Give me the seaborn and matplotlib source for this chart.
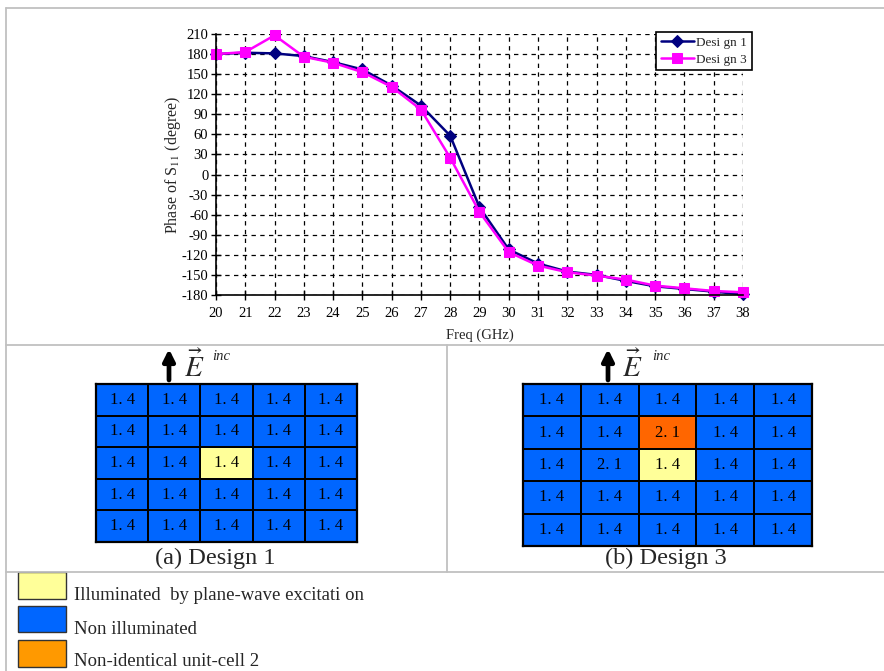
import numpy as np
import pandas as pd
import matplotlib
matplotlib.use("Agg")
import matplotlib.pyplot as plt
import seaborn as sns
from matplotlib.colors import ListedColormap
from matplotlib.lines import Line2D
from matplotlib.patches import Rectangle, FancyArrowPatch

# ---------------- data ----------------
freq = [20, 21, 22, 23, 24, 25, 26, 27, 28, 29, 30, 31, 32, 33, 34, 35, 36, 37, 38]
design1 = [180, 182, 181, 177, 168, 157, 133, 103, 58, -49, -112, -133, -145, -150,
           -159, -167, -171, -175, -179]
design3 = [180, 183, 208, 176, 167, 153, 131, 97, 25, -56, -116, -136, -146, -151,
           -157, -166, -170, -174, -176]
series_names = ["Desi gn 1", "Desi gn 3"]
yticks = list(range(-180, 211, 30))

# grid cell categories: 0 = non illuminated, 1 = illuminated, 2 = non-identical cell
grid1_cat = [[0, 0, 0, 0, 0],
             [0, 0, 0, 0, 0],
             [0, 0, 1, 0, 0],
             [0, 0, 0, 0, 0],
             [0, 0, 0, 0, 0]]
grid1_txt = [["1. 4"] * 5,
             ["1. 4"] * 5,
             ["1. 4"] * 5,
             ["1. 4"] * 5,
             ["1. 4"] * 5]
grid3_cat = [[0, 0, 0, 0, 0],
             [0, 0, 2, 0, 0],
             [0, 0, 1, 0, 0],
             [0, 0, 0, 0, 0],
             [0, 0, 0, 0, 0]]
grid3_txt = [["1. 4", "1. 4", "1. 4", "1. 4", "1. 4"],
             ["1. 4", "1. 4", "2. 1", "1. 4", "1. 4"],
             ["1. 4", "2. 1", "1. 4", "1. 4", "1. 4"],
             ["1. 4", "1. 4", "1. 4", "1. 4", "1. 4"],
             ["1. 4", "1. 4", "1. 4", "1. 4", "1. 4"]]
captions = ["(a) Design 1", "(b) Design 3"]
legend_labels = ["Illuminated  by plane-wave excitati on", "Non illuminated",
                 "Non-identical unit-cell 2"]

# ---------------- style ----------------
sns.set_style("ticks")
plt.rcParams["font.family"] = ["Liberation Serif", "DejaVu Serif"]
plt.rcParams["mathtext.fontset"] = "stix"
plt.rcParams["axes.unicode_minus"] = False

W, H = 884, 671
fig = plt.figure(figsize=(W / 100, H / 100), dpi=100)
fig.patch.set_facecolor("white")


def fx(x):
    return x / W


def fy(y):
    return 1 - y / H


def box(x0, y0, x1, y1):
    return [fx(x0), fy(y1), fx(x1) - fx(x0), fy(y0) - fy(y1)]


# ---------------- frame lines ----------------
frame_c = "#c0c0c0"
for (xa, ya, xb, yb) in [(6, 8, 884, 8), (6, 8, 6, 671), (6, 345, 884, 345),
                         (447, 345, 447, 572), (6, 572, 884, 572)]:
    fig.add_artist(Line2D([fx(xa), fx(xb)], [fy(ya), fy(yb)], color=frame_c, lw=1.3,
                          transform=fig.transFigure))

# ---------------- line chart ----------------
ax = fig.add_axes(box(216, 34, 743, 295))
df = pd.DataFrame({
    "freq": freq * 2,
    "phase": design1 + design3,
    "design": [series_names[0]] * len(freq) + [series_names[1]] * len(freq),
})
sns.lineplot(data=df[df.design == series_names[0]], x="freq", y="phase", ax=ax,
             color="#000080", marker="D", markersize=6, markeredgecolor="#000080",
             lw=1.8, label=series_names[0], clip_on=False)
sns.lineplot(data=df[df.design == series_names[1]], x="freq", y="phase", ax=ax,
             color="#FF00FF", marker="s", markersize=7.5, markeredgecolor="#FF00FF",
             lw=1.8, label=series_names[1], clip_on=False)
ax.set_xlim(20, 38)
ax.set_ylim(-180, 210)
ax.set_xticks(freq)
ax.set_yticks(yticks)
ax.grid(True, color="black", ls=(0, (3.5, 3.5)), lw=0.9)
ax.set_axisbelow(True)
for s in ["top", "right"]:
    ax.spines[s].set_visible(False)
for s in ["left", "bottom"]:
    ax.spines[s].set_color("black")
    ax.spines[s].set_linewidth(1.2)
ax.tick_params(direction="inout", length=7, width=1, labelsize=10.5, colors="black")
ax.tick_params(axis="x", pad=5)
ax.tick_params(axis="y", pad=2)
ax.set_xlabel("Freq (GHz)", fontsize=10.5, labelpad=6)
ax.set_ylabel("Phase of S$_{11}$ (degree)", fontsize=11.5, labelpad=-1)
leg = ax.legend(loc="upper right", bbox_to_anchor=(1.017, 1.008), borderaxespad=0,
                frameon=True, fancybox=False, edgecolor="black", fontsize=9.5,
                handlelength=2.5, handletextpad=0.2, borderpad=0.35, labelspacing=0.35)
leg.get_frame().set_linewidth(1.2)
leg.get_frame().set_alpha(1)

# ---------------- grids ----------------
cmap = ListedColormap(["#0066FF", "#FFFF99", "#FF6600"])


def draw_grid(rect, cat, txt):
    g = fig.add_axes(rect)
    sns.heatmap(np.array(cat), ax=g, cmap=cmap, vmin=-0.5, vmax=2.5, cbar=False,
                annot=np.array(txt), fmt="", linewidths=1.3, linecolor="black",
                xticklabels=False, yticklabels=False,
                annot_kws={"color": "black", "fontsize": 12,
                           "family": ["Liberation Serif"]})
    for s in g.spines.values():
        s.set_visible(True)
        s.set_color("black")
        s.set_linewidth(1.6)
    g.tick_params(length=0)
    return g


draw_grid(box(96, 384, 357, 542), grid1_cat, grid1_txt)
draw_grid(box(523, 384, 812, 546), grid3_cat, grid3_txt)

# E-field arrows and labels
for (xa, xe, xi) in [(169, 194, 221), (608, 632, 661)]:
    fig.add_artist(FancyArrowPatch((fx(xa), fy(380)), (fx(xa), fy(349)),
                                   transform=fig.transFigure, arrowstyle="-|>",
                                   mutation_scale=17, lw=3.4, color="black",
                                   shrinkA=0, shrinkB=0))
    fig.text(fx(xe), fy(367), r"$\vec{E}$", fontsize=21, ha="center", va="center")
    fig.text(fx(xi), fy(357), "inc", fontsize=10.5, style="italic", ha="center",
             va="center")

fig.text(fx(215), fy(558), captions[0], fontsize=17.5, ha="center", va="center")
fig.text(fx(666), fy(558), captions[1], fontsize=17.5, ha="center", va="center")

# ---------------- color key ----------------
key_colors = ["#FFFF99", "#0066FF", "#FF9900"]
key_rows = [(572, 599, 596), (606, 632, 630), (640, 667, 662)]
for c, (y0, y1, yt), lab in zip(key_colors, key_rows, legend_labels):
    fig.add_artist(Rectangle((fx(18), fy(y1)), fx(66) - fx(18), fy(y0) - fy(y1),
                             transform=fig.transFigure, facecolor=c,
                             edgecolor="#333333", lw=1))
    fig.text(fx(74), fy(yt), lab, fontsize=13.5, ha="left", va="center")

fig.savefig("out.png", dpi=100, facecolor="white")
